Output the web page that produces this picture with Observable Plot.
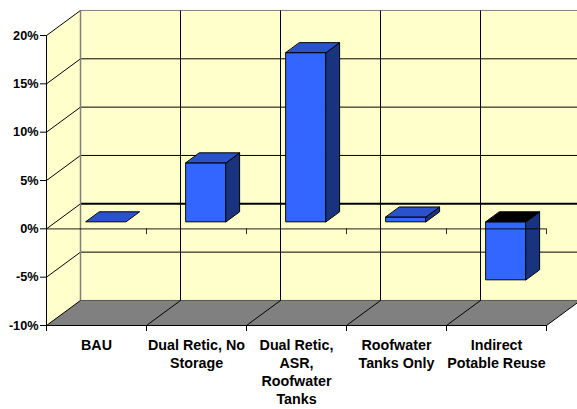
<!DOCTYPE html>
<html>
<head>
<meta charset="utf-8">
<script src="https://cdn.jsdelivr.net/npm/d3@7"></script>
<script src="https://cdn.jsdelivr.net/npm/@observablehq/plot@0.6"></script>
<style>
  body { margin: 0; background: #fff; overflow: hidden; }
  #chart svg { display: block; }
</style>
</head>
<body>
<div id="chart"></div>
<script>
// Scenario labels (line breaks as wrapped under each column)
const categories = [
  "BAU",
  "Dual Retic, No\nStorage",
  "Dual Retic,\nASR,\nRoofwater\nTanks",
  "Roofwater\nTanks Only",
  "Indirect\nPotable Reuse"
];
// Change per scenario, in percent
const values = [0, 6.1, 17.5, 0.5, -6.0];
// Value axis ticks, in percent
const yTicks = [-10, -5, 0, 5, 10, 15, 20];

// Oblique projection: the full depth of the box shifts a point by DX categories and DY percent
const DX = 0.34, DY = 2.59;
const BAR_F0 = 0.28, BAR_F1 = 0.68;   // depth of the column front and back faces
const BAR_X0 = 0.3, BAR_X1 = 0.7;     // column span inside its category
const yMin = yTicks[0], yMax = yTicks[yTicks.length - 1];
const n = categories.length;

const P = (x, y, f = 0) => ({x: x + f * DX, y: y + f * DY});

// Filled polygons: walls and floor
const walls = [];
const addPoly = (arr, id, fill, pts) => pts.forEach(p => arr.push({id, fill, ...p}));
addPoly(walls, "back", "#FFFFCC", [P(0, yMin, 1), P(n, yMin, 1), P(n, yMax, 1), P(0, yMax, 1)]);
addPoly(walls, "left", "#FFFFCC", [P(0, yMin, 0), P(0, yMin, 1), P(0, yMax, 1), P(0, yMax, 0)]);
addPoly(walls, "floor", "#808080", [P(0, yMin, 0), P(n, yMin, 0), P(n, yMin, 1), P(0, yMin, 1)]);

// Column faces
const FRONT = "#3366FF", TOP = "#2952CC", SIDE = "#1A337F";
const bars = [];
values.forEach((v, i) => {
  const lo = Math.min(0, v), hi = Math.max(0, v);
  const xa = i + BAR_X0, xb = i + BAR_X1;
  if (hi > lo) {
    addPoly(bars, `f${i}`, FRONT, [P(xa, lo, BAR_F0), P(xb, lo, BAR_F0), P(xb, hi, BAR_F0), P(xa, hi, BAR_F0)]);
    addPoly(bars, `s${i}`, SIDE, [P(xb, lo, BAR_F0), P(xb, lo, BAR_F1), P(xb, hi, BAR_F1), P(xb, hi, BAR_F0)]);
  }
  addPoly(bars, `t${i}`, v < 0 ? "#000000" : TOP, [P(xa, hi, BAR_F0), P(xb, hi, BAR_F0), P(xb, hi, BAR_F1), P(xa, hi, BAR_F1)]);
});

// Gridlines as segments
const seg = (a, b, stroke = "#000", w = 1) => ({x1: a.x, y1: a.y, x2: b.x, y2: b.y, stroke, w});
const grid = [];
yTicks.slice(1).forEach(t => {
  const edge = t === yMax;
  grid.push(seg(P(0, t, 1), P(n, t, 1), edge ? "#808080" : "#000", t === 0 ? 2 : 1));   // back wall
  grid.push(seg(P(0, t, 0), P(0, t, 1), "#000", 1));                                      // left wall
});
grid.push(seg(P(0, yMin, 1), P(n, yMin, 1), "#555", 1));
d3.range(0, n + 1).forEach(i => {
  if (i < n) grid.push(seg(P(i, yMin, 1), P(i, yMax, 1), i === 0 ? "#808080" : "#000", i === 0 ? 1.5 : 1));
  grid.push(seg(P(i, yMin, 0), P(i, yMin, 1), "#000", 1));                                 // floor
});

const boundaries = d3.range(0, n + 1);

const chart = Plot.plot({
  width: 577,
  height: 409,
  marginLeft: 46,
  marginRight: 0,
  marginTop: 35,
  marginBottom: 84,
  x: {domain: [0, 5.31], axis: null},
  y: {domain: [yMin, yMax], axis: null},
  color: {type: "identity"},
  style: {background: "white", color: "black", fontFamily: "'Liberation Sans', Arial, sans-serif", overflow: "hidden"},
  marks: [
    Plot.line(walls, {x: "x", y: "y", z: "id", fill: "fill", stroke: "none", curve: "linear-closed"}),
    Plot.link(grid, {x1: "x1", y1: "y1", x2: "x2", y2: "y2", stroke: "stroke", strokeWidth: "w"}),
    Plot.line(bars, {x: "x", y: "y", z: "id", fill: "fill", stroke: "#000", strokeWidth: 1, strokeLinejoin: "round", curve: "linear-closed"}),
    // front zero line with category ticks
    Plot.ruleY([0], {x1: 0, x2: n, stroke: "#000", strokeOpacity: 0.7, strokeWidth: 1.2}),
    Plot.ruleX(boundaries.slice(1), {y1: 0, y2: -0.6, stroke: "#000", strokeOpacity: 0.8}),
    // front bottom edge with category ticks
    Plot.ruleY([yMin], {x1: 0, x2: n, stroke: "#000"}),
    Plot.ruleX(boundaries, {y1: yMin, y2: yMin - 0.62, stroke: "#000"}),
    // value axis
    Plot.ruleX([0], {y1: yMin, y2: yMax, stroke: "#000"}),
    Plot.axisY({ticks: yTicks, tickFormat: d => `${d}%`, tickSize: 6, tickPadding: 2, fontSize: 12.7, fontWeight: "bold"}),
    // category labels
    Plot.text(categories, {
      x: (d, i) => i + 0.5, y: yMin, text: d => d,
      lineAnchor: "top", dy: 12, lineHeight: 1.26,
      fontSize: 14.3, fontWeight: "bold", fill: "#000"
    })
  ]
});

document.getElementById("chart").append(chart);
</script>
</body>
</html>
